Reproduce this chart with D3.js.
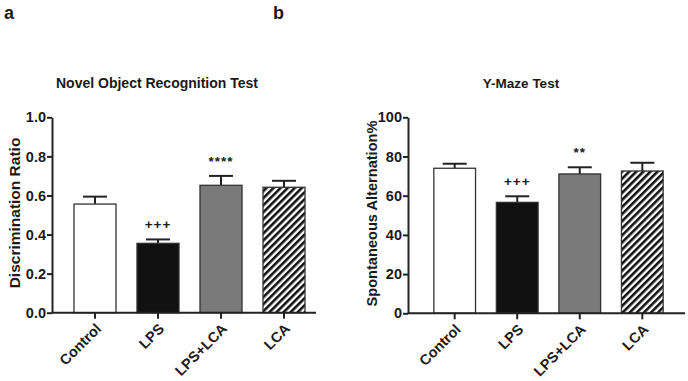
<!DOCTYPE html>
<html><head><meta charset="utf-8">
<script src="https://cdn.jsdelivr.net/npm/d3@7"></script>
<style>body{margin:0;background:#fff}svg{display:block}text{font-family:Arial,"Liberation Sans",sans-serif;font-weight:bold;fill:#1a1a1a}</style>
</head><body>
<svg id="c" width="688" height="381"></svg>
<script>
const categories = ["Control","LPS","LPS+LCA","LCA"];
const norValues = [0.556,0.355,0.652,0.642];
const norErrors = [0.038,0.020,0.048,0.033];
const norTicks = [0,0.2,0.4,0.6,0.8,1.0];
const norMarks = ["","+++","****",""];
const ymValues = [74.0,56.6,71.1,72.6];
const ymErrors = [2.3,3.1,3.4,4.2];
const ymTicks = [0,20,40,60,80,100];
const ymMarks = ["","+++","**",""];

const svg = d3.select("#c");
const defs = svg.append("defs");
const pat = defs.append("pattern").attr("id","hatch").attr("patternUnits","userSpaceOnUse")
  .attr("width",5).attr("height",5).attr("patternTransform","rotate(45)");
pat.append("rect").attr("width",5).attr("height",5).attr("fill","#fff");
pat.append("rect").attr("x",0).attr("width",2.6).attr("height",5).attr("fill","#111");

const fills = ["#fff","#111","#7a7a7a","url(#hatch)"];

function panel(opt){
  const g = svg.append("g");
  const y = d3.scaleLinear().domain(opt.domain).range([opt.y0, opt.y1]);
  const x = d3.scaleBand().domain(categories).range([opt.xl, opt.xr]).paddingInner(0.333).paddingOuter(0.333);
  categories.forEach((c,i)=>{
    const v = opt.values[i], e = opt.errors[i];
    const cx = x(c)+x.bandwidth()/2;
    g.append("line").attr("x1",cx).attr("x2",cx).attr("y1",y(v)).attr("y2",y(v+e)).attr("stroke","#222").attr("stroke-width",2);
    g.append("line").attr("x1",cx-12).attr("x2",cx+12).attr("y1",y(v+e)).attr("y2",y(v+e)).attr("stroke","#222").attr("stroke-width",2);
    g.append("rect").attr("x",x(c)).attr("y",y(v)).attr("width",x.bandwidth()).attr("height",y(opt.domain[0])-y(v))
      .attr("fill",fills[i]).attr("stroke","#333").attr("stroke-width",1.3);
    if(opt.marks[i]){
      g.append("text").attr("x",cx).attr("y",y(v+e)-10).attr("text-anchor","middle")
        .style("font-size","13.5px").style("letter-spacing","1px").text(opt.marks[i]);
    }
  });
  const ya = g.append("g").attr("transform",`translate(${opt.ax},0)`)
    .call(d3.axisLeft(y).tickValues(opt.ticks).tickFormat(opt.fmt).tickSize(5).tickSizeOuter(0));
  ya.select(".domain").attr("stroke","#222").attr("stroke-width",2);
  ya.selectAll(".tick line").attr("stroke","#222").attr("stroke-width",2);
  ya.selectAll(".tick text").attr("x",-6).style("font-size","14.5px").style("font-family","Arial,'Liberation Sans',sans-serif").style("font-weight","bold").attr("fill","#1a1a1a");
  const xa = g.append("g").attr("transform",`translate(0,${opt.y0})`)
    .call(d3.axisBottom(x).tickSize(6).tickSizeOuter(0));
  xa.select(".domain").attr("d",`M${opt.ax},0H${opt.xend}`).attr("stroke","#222").attr("stroke-width",2);
  xa.selectAll(".tick line").attr("stroke","#222").attr("stroke-width",2);
  xa.selectAll(".tick text").attr("y",0).attr("dy",0)
    .attr("transform","translate(7,17) rotate(-45)").attr("text-anchor","end")
    .style("font-size","14.5px").style("font-family","Arial,'Liberation Sans',sans-serif").style("font-weight","bold").attr("fill","#1a1a1a");
  g.append("text").attr("x",opt.tx).attr("y",88).attr("text-anchor","middle").style("font-size",opt.tsize).text(opt.title);
  g.append("text").attr("transform",`translate(${opt.lx},${opt.ly}) rotate(-90)`).attr("text-anchor","middle")
    .attr("dy","0.35em").style("font-size",opt.lsize).text(opt.ylabel);
  g.append("text").attr("x",opt.px).attr("y",19).style("font-family","'Liberation Sans Narrow','Arial Narrow',Arial,sans-serif")
    .style("font-size","18px").text(opt.letter);
}

panel({domain:[0,1], values:norValues, errors:norErrors, ticks:norTicks, marks:norMarks, fmt:d3.format(".1f"),
  y0:312.7, y1:117.3, xl:53, xr:326, ax:52, xend:316, tx:157, tsize:"14px", title:"Novel Object Recognition Test",
  ylabel:"Discrimination Ratio", lx:15, ly:213, lsize:"15.5px", px:4, letter:"a"});
panel({domain:[0,100], values:ymValues, errors:ymErrors, ticks:ymTicks, marks:ymMarks, fmt:d3.format("d"),
  y0:313.3, y1:117.3, xl:413, xr:684, ax:408, xend:685, tx:521, tsize:"13.5px", title:"Y-Maze Test",
  ylabel:"Spontaneous Alternation%", lx:371.5, ly:213.5, lsize:"14.6px", px:273, letter:"b"});
</script>
</body></html>
